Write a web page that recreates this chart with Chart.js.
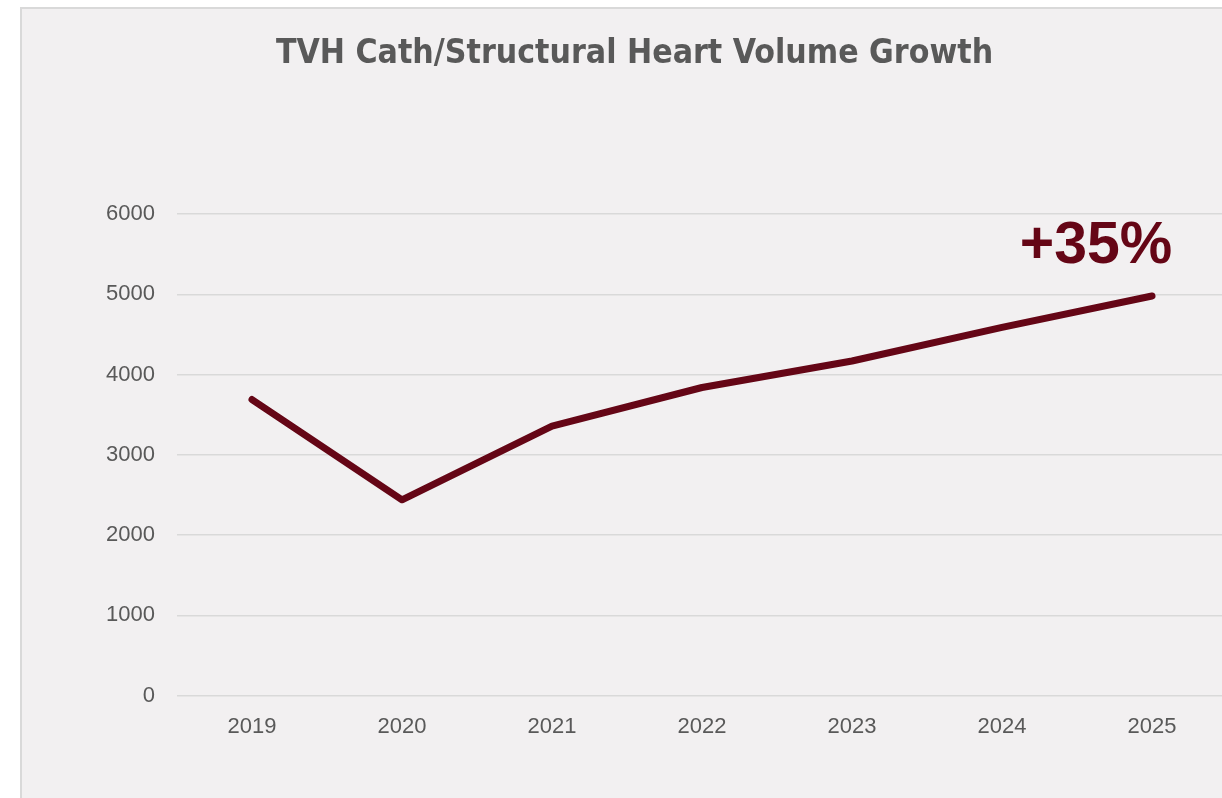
<!DOCTYPE html>
<html>
<head>
<meta charset="utf-8">
<script src="https://cdn.jsdelivr.net/npm/chart.js@4.4.1/dist/chart.umd.min.js"></script>
<style>
  html, body { margin: 0; padding: 0; background: #ffffff; overflow: hidden; width: 1222px; height: 798px; }
  #panel {
    position: absolute; left: 20px; top: 7px; width: 1212px; height: 791px;
    background: #f2f0f1; border-left: 2px solid #d9d9d9; border-top: 2px solid #d9d9d9;
    box-sizing: border-box;
  }
  #wrap { position: relative; width: 1210px; height: 789px; }
</style>
</head>
<body>
<div id="panel"><div id="wrap"><canvas id="grafica"></canvas></div></div>
<script>
const years = ['2019', '2020', '2021', '2022', '2023', '2024', '2025']
const volume = [3690, 2440, 3360, 3840, 4170, 4590, 4980]
const yTicks = [0, 1000, 2000, 3000, 4000, 5000, 6000]
const titulo = 'TVH Cath/Structural Heart Volume Growth'
const growthLabel = '+35%'

const maroon = '#650616'
const gris = '#595959'

// draws the growth callout above the last point
const growthPlugin = {
    id: 'growth',
    afterDatasetsDraw(chart) {
        const meta = chart.getDatasetMeta(0)
        const last = meta.data[meta.data.length - 1]
        const ctx = chart.ctx
        ctx.save()
        ctx.fillStyle = maroon
        ctx.font = 'bold 59px "Liberation Sans", Arial, sans-serif'
        ctx.textAlign = 'center'
        ctx.textBaseline = 'alphabetic'
        ctx.fillText(growthLabel, last.x - 56, last.y - 33)
        ctx.restore()
    }
}

const config = {
    type: 'line',
    data: {
        labels: years,
        datasets: [{
            label: 'Volume',
            data: volume,
            borderColor: maroon,
            backgroundColor: maroon,
            borderWidth: 7,
            borderCapStyle: 'round',
            borderJoinStyle: 'round',
            pointRadius: 0,
            tension: 0
        }]
    },
    options: {
        responsive: true,
        maintainAspectRatio: false,
        animation: false,
        layout: { padding: { left: 20, right: 5, top: 0, bottom: 40 } },
        plugins: {
            legend: { display: false },
            tooltip: { enabled: false },
            title: {
                display: true,
                text: titulo,
                color: gris,
                font: { family: '"Liberation Sans Narrow", "DejaVu Sans Condensed", "Liberation Sans", sans-serif', size: 33.5, weight: 'bold' },
                padding: { top: 25, bottom: 140 }
            }
        },
        scales: {
            x: {
                offset: true,
                grid: { display: false, drawTicks: false },
                border: { display: false },
                ticks: { color: gris, font: { family: '"Liberation Sans", Arial, sans-serif', size: 22 }, padding: 18 }
            },
            y: {
                min: 0,
                max: 6000,
                afterBuildTicks(scale) {
                    scale.ticks = yTicks.map(v => ({ value: v }))
                },
                afterFit(scale) {
                    scale.width = 135
                },
                grid: { color: '#d9d9d9', lineWidth: 1.5, drawTicks: false },
                border: { display: false },
                ticks: {
                    color: gris,
                    font: { family: '"Liberation Sans", Arial, sans-serif', size: 22 },
                    padding: 22,
                    callback: v => String(v)
                }
            }
        }
    },
    plugins: [growthPlugin]
}

new Chart(document.getElementById('grafica'), config)
</script>
</body>
</html>
